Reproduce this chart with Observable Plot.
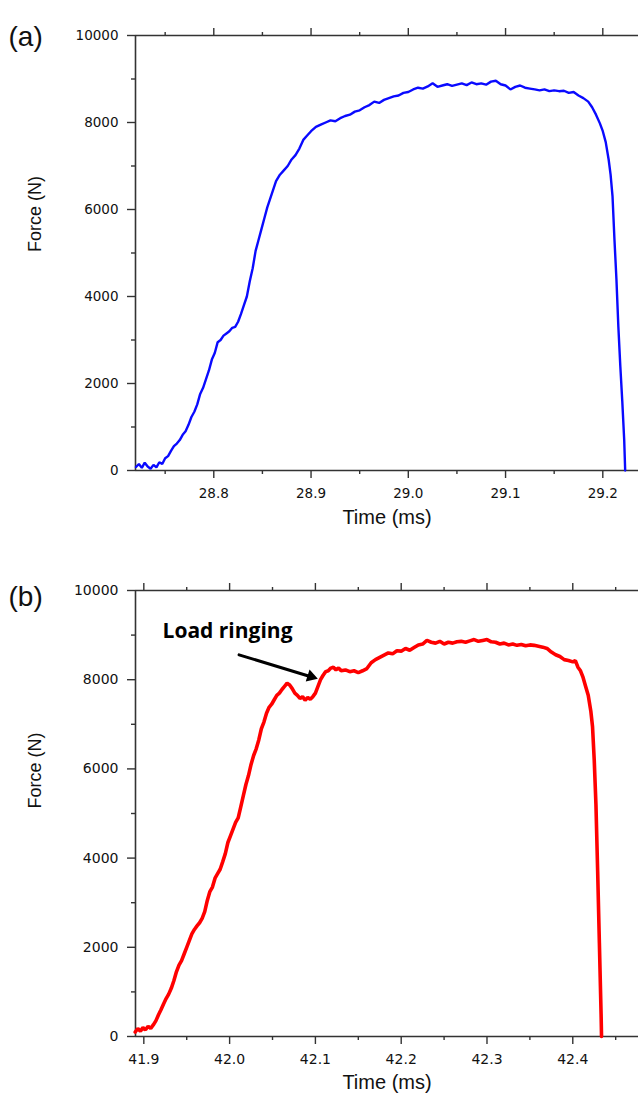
<!DOCTYPE html>
<html><head><meta charset="utf-8">
<script src="https://cdn.jsdelivr.net/npm/d3@7"></script>
<script src="https://cdn.jsdelivr.net/npm/@observablehq/plot@0.6"></script>
<style>
body{margin:0;background:#fff;}
#chart svg{display:block;}
</style></head><body><div id="chart"></div>
<script>
// ---------- data ----------
const aTime = [28.720,28.723,28.726,28.729,28.732,28.735,28.738,28.741,28.744,28.747,28.750,28.753,28.756,28.759,28.762,28.765,28.768,28.771,28.774,28.777,28.780,28.783,28.786,28.789,28.792,28.795,28.798,28.801,28.804,28.807,28.810,28.813,28.816,28.819,28.822,28.825,28.828,28.831,28.834,28.837,28.840,28.843,28.846,28.849,28.852,28.855,28.858,28.861,28.864,28.868,28.872,28.876,28.880,28.884,28.888,28.892,28.896,28.900,28.905,28.910,28.915,28.920,28.925,28.930,28.935,28.940,28.945,28.950,28.955,28.960,28.965,28.970,28.975,28.980,28.985,28.990,28.995,29.000,29.005,29.010,29.015,29.020,29.025,29.030,29.035,29.040,29.045,29.050,29.055,29.060,29.065,29.070,29.075,29.080,29.085,29.090,29.095,29.100,29.105,29.110,29.115,29.120,29.125,29.130,29.135,29.140,29.145,29.150,29.155,29.160,29.165,29.170,29.175,29.180,29.185,29.189,29.193,29.197,29.200,29.203,29.206,29.208,29.210,29.212,29.214,29.216,29.218,29.220,29.222,29.223];
const aForce = [80,150,60,180,90,40,130,70,190,150,280,330,450,560,620,700,820,900,1050,1230,1350,1520,1760,1900,2100,2300,2550,2700,2950,3000,3100,3150,3200,3280,3300,3420,3600,3800,4000,4350,4650,5050,5300,5550,5800,6050,6250,6450,6650,6800,6900,7000,7150,7250,7400,7600,7700,7800,7900,7950,8000,8050,8030,8100,8150,8180,8250,8280,8350,8400,8480,8450,8520,8560,8600,8620,8680,8700,8760,8800,8780,8830,8900,8820,8850,8880,8840,8870,8900,8860,8920,8880,8900,8870,8940,8960,8880,8850,8760,8820,8850,8800,8780,8760,8740,8760,8720,8740,8720,8730,8680,8700,8620,8560,8480,8350,8180,7980,7800,7550,7150,6800,6300,5300,4400,3300,2400,1600,700,0];

const bTime = [41.890,41.893,41.896,41.899,41.902,41.905,41.908,41.911,41.914,41.917,41.920,41.923,41.926,41.929,41.932,41.935,41.938,41.941,41.944,41.947,41.950,41.953,41.956,41.959,41.962,41.965,41.968,41.971,41.974,41.977,41.980,41.983,41.986,41.989,41.992,41.995,41.998,42.001,42.004,42.007,42.010,42.013,42.016,42.019,42.022,42.025,42.028,42.031,42.034,42.037,42.040,42.043,42.046,42.049,42.052,42.055,42.058,42.061,42.064,42.067,42.070,42.073,42.076,42.079,42.082,42.085,42.088,42.091,42.094,42.097,42.100,42.103,42.106,42.109,42.112,42.115,42.118,42.121,42.124,42.127,42.130,42.135,42.140,42.145,42.150,42.155,42.160,42.165,42.170,42.175,42.180,42.185,42.190,42.195,42.200,42.205,42.210,42.215,42.220,42.225,42.230,42.235,42.240,42.245,42.250,42.255,42.260,42.265,42.270,42.275,42.280,42.285,42.290,42.295,42.300,42.305,42.310,42.315,42.320,42.325,42.330,42.335,42.340,42.345,42.350,42.355,42.360,42.365,42.370,42.375,42.380,42.385,42.390,42.395,42.400,42.403,42.406,42.409,42.412,42.415,42.418,42.421,42.423,42.425,42.427,42.429,42.431,42.433,42.4335];
const bForce = [100,180,120,200,150,230,180,260,350,480,600,730,850,950,1080,1250,1450,1600,1700,1850,2000,2150,2300,2400,2480,2550,2650,2800,3050,3250,3350,3550,3650,3750,3920,4100,4350,4500,4650,4800,4900,5150,5400,5650,5850,6100,6300,6450,6650,6900,7050,7250,7380,7450,7550,7650,7700,7780,7850,7920,7880,7800,7700,7650,7580,7620,7540,7600,7560,7620,7700,7850,8000,8100,8180,8200,8260,8280,8220,8260,8200,8220,8180,8200,8160,8200,8250,8380,8450,8500,8550,8600,8580,8650,8640,8700,8660,8720,8780,8800,8880,8840,8820,8860,8800,8840,8820,8850,8860,8840,8870,8900,8860,8880,8900,8850,8840,8800,8820,8780,8800,8770,8790,8760,8780,8770,8750,8730,8700,8620,8560,8520,8450,8430,8400,8430,8280,8200,8050,7850,7650,7300,6950,6200,5200,3700,2100,500,0];

const yTicks = [0, 2000, 4000, 6000, 8000, 10000];
const yMinor = [1000, 3000, 5000, 7000, 9000];
const aTicks = [28.8, 28.9, 29.0, 29.1, 29.2];
const aMinor = [28.75, 28.85, 28.95, 29.05, 29.15];
const bTicks = [41.9, 42.0, 42.1, 42.2, 42.3, 42.4];
const bMinor = [41.95, 42.05, 42.15, 42.25, 42.35, 42.45];
const aDomain = [28.7195, 29.2367];
const bDomain = [41.8903, 42.4766];
const panelLabels = ["(a)", "(b)"];
const xLabel = "Time (ms)";
const yLabel = "Force (N)";
const noteText = "Load ringing";
const notePos = [41.9218, 9081];
const arrowFrom = [42.011, 8558];
const arrowTo = [42.1026, 8020];

// ---------- drawing ----------
const axisColor = "#333";
function panel({time, force, domain, ticks, minor, label, color, sw, height, mt, mb, tickFont, extra = [], labelDy = 0, yLabDy = 0, xLabDy}) {
  const data = time.map((t, i) => ({t, f: force[i]}));
  const blank = () => "";
  return Plot.plot({
    width: 638, height, marginLeft: 135, marginRight: 0, marginTop: mt, marginBottom: mb,
    style: {fontFamily: "DejaVu Sans, sans-serif", fontSize: tickFont + "px", color: "#111", background: "#fff", overflow: "visible"},
    x: {domain, label: null},
    y: {domain: [0, 10000], label: null},
    marks: [
      Plot.axisY({ticks: yTicks, tickSize: 8, tickPadding: 9, tickFormat: d => String(d), stroke: axisColor, strokeWidth: 1.4}),
      Plot.axisY({ticks: yMinor, tickSize: 4, tickFormat: blank, stroke: axisColor, strokeWidth: 1.4}),
      Plot.axisX({ticks, tickSize: 8, tickPadding: 10, tickFormat: d3.format(".1f"), stroke: axisColor, strokeWidth: 1.4}),
      Plot.axisX({ticks: minor, tickSize: 4, tickFormat: blank, stroke: axisColor, strokeWidth: 1.4}),
      Plot.axisX({anchor: "top", ticks, tickSize: 8, tickFormat: blank, stroke: axisColor, strokeWidth: 1.4}),
      Plot.axisX({anchor: "top", ticks: minor, tickSize: 4, tickFormat: blank, stroke: axisColor, strokeWidth: 1.4}),
      Plot.ruleY([0, 10000], {stroke: axisColor, strokeWidth: 1.6}),
      Plot.ruleX([domain[0]], {stroke: axisColor, strokeWidth: 1.6}),
      Plot.line(data, {x: "t", y: "f", stroke: color, strokeWidth: sw, strokeLinejoin: "miter"}),
      Plot.text([label], {text: d => d, frameAnchor: "top-left", textAnchor: "start", dx: -127, dy: labelDy, fontSize: 28, fontFamily: "Liberation Sans, Arial, sans-serif", fill: "#111"}),
      Plot.text([yLabel], {text: d => d, frameAnchor: "left", rotate: -90, dx: -100, dy: yLabDy, fontSize: 18, fontFamily: "Liberation Sans, Arial, sans-serif", fill: "#111"}),
      Plot.text([xLabel], {text: d => d, frameAnchor: "bottom", dy: xLabDy, fontSize: 20, fontFamily: "Liberation Sans, Arial, sans-serif", fill: "#111"}),
      ...extra
    ]
  });
}

const chart = document.getElementById("chart");
chart.append(panel({
  time: aTime, force: aForce, domain: aDomain, ticks: aTicks, minor: aMinor, label: panelLabels[0],
  color: "#0a0aff", sw: 2.4, height: 530, mt: 35, mb: 60, tickFont: 13.5, labelDy: -9, yLabDy: -1, xLabDy: 53
}));
chart.append(panel({
  time: bTime, force: bForce, domain: bDomain, ticks: bTicks, minor: bMinor, label: panelLabels[1],
  color: "#ff0000", sw: 3.6, height: 571, mt: 60, mb: 65, tickFont: 14, labelDy: -4, yLabDy: -5, xLabDy: 52,
  extra: [
    Plot.text([noteText], {x: notePos[0], y: notePos[1], text: d => d, textAnchor: "start", fontSize: 21, fontWeight: "bold", fontFamily: "Open Sans, Liberation Sans, sans-serif", fill: "#000"}),
    Plot.arrow([{x1: arrowFrom[0], y1: arrowFrom[1], x2: arrowTo[0], y2: arrowTo[1]}], {x1: "x1", y1: "y1", x2: "x2", y2: "y2", headLength: 0, insetEnd: 7, stroke: "#000", strokeWidth: 3}),
    Plot.dot([{x: arrowTo[0], y: arrowTo[1]}], {x: "x", y: "y", symbol: "triangle", r: 4.6, rotate: 108, dx: -6.6, dy: -2.2, fill: "#000", stroke: "none"})
  ]
}));
</script></body></html>
